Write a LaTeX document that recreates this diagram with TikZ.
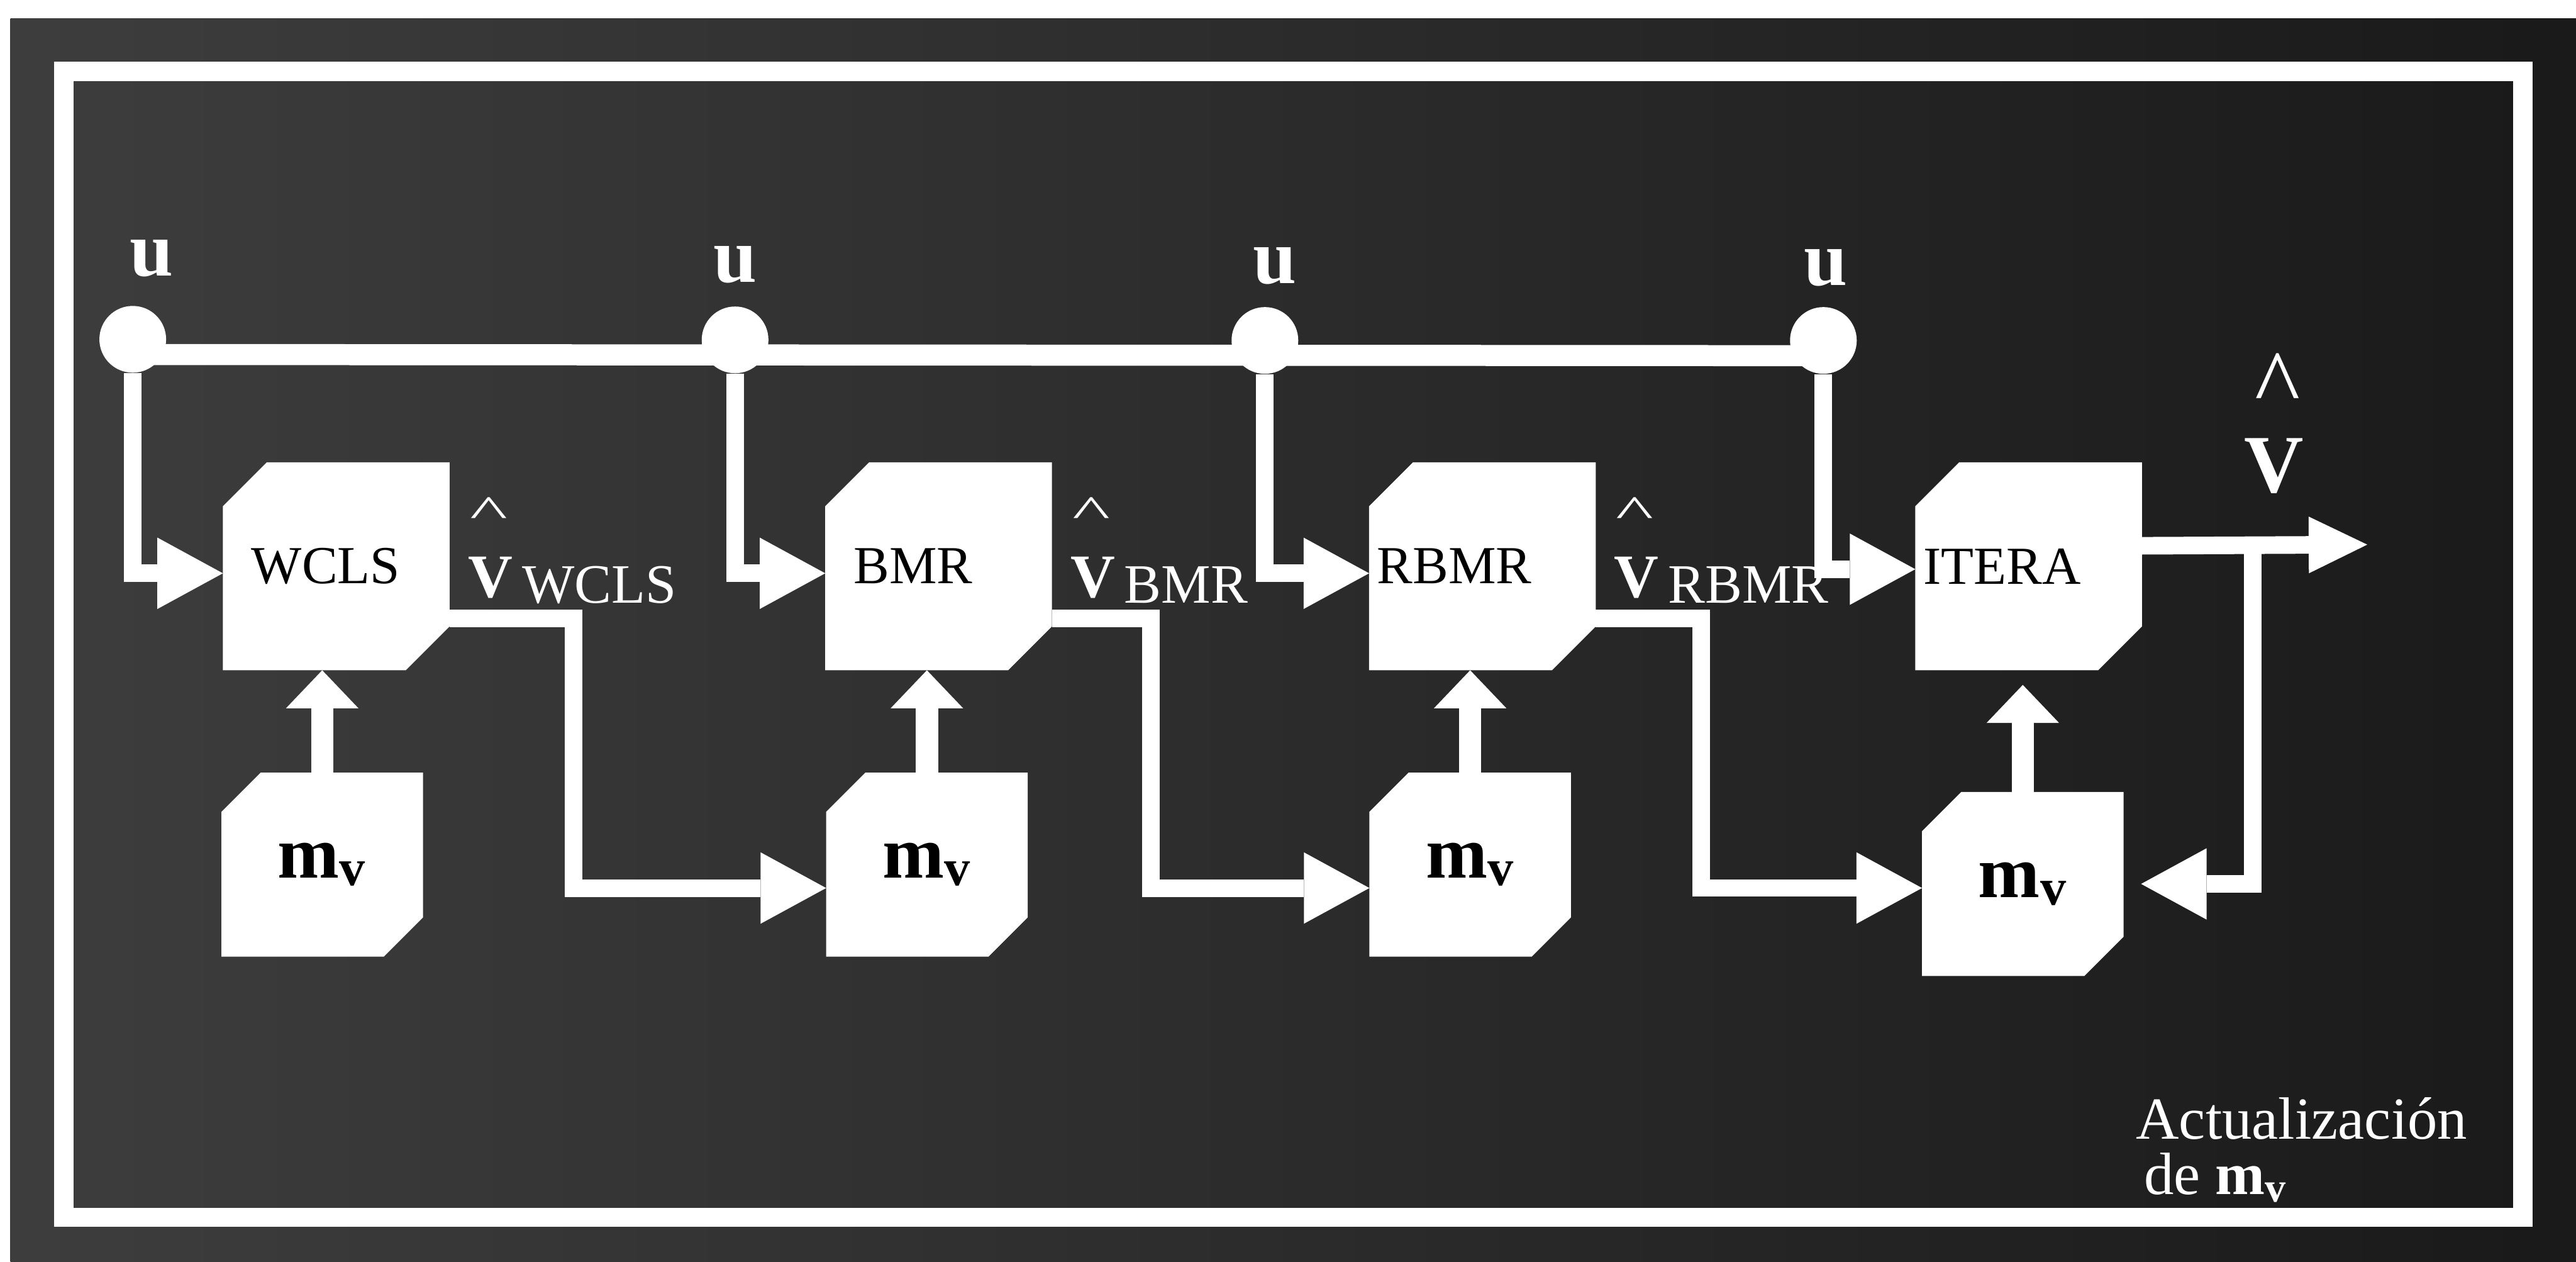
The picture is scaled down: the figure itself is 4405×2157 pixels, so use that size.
\documentclass[tikz,border=0pt]{standalone}
\usepackage{fontspec}
\setmainfont{Liberation Serif}
\usepackage{graphicx}
\usetikzlibrary{arrows.meta,positioning,calc,backgrounds}

% white block with two cut corners, filled behind a named node
\newcommand{\cutbox}[2]{%
  \fill[white] ([xshift=#2]#1.north west) -- (#1.north east)
    -- ([yshift=#2]#1.south east) -- ([xshift=-#2]#1.south east)
    -- (#1.south west) -- ([yshift=-#2]#1.north west) -- cycle;}
\newcommand{\lowsub}[1]{\raisebox{-1mm}{#1}}
\newcommand{\mvtext}{\textbf{m}\textsubscript{\textbf{v}}}
\newcommand{\flathat}{\scalebox{1}[0.56]{\textasciicircum}}

\begin{document}
\begin{tikzpicture}[
  x=0.01cm, y=-0.01cm,
  blk/.style={rectangle, inner sep=0pt, minimum width=3.86cm,
    minimum height=3.54cm, text width=2.9cm, align=left,
    font=\fontsize{26}{28}\selectfont},
  mvblk/.style={rectangle, inner sep=0pt, minimum width=3.43cm,
    minimum height=3.13cm, font=\fontsize{36}{38}\selectfont},
  dot/.style={circle, fill=white, inner sep=0pt, minimum size=1.14cm},
  ulab/.style={text=white, inner sep=0pt, anchor=base,
    font=\fontsize{38}{40}\selectfont\bfseries},
  vlab/.style={text=white, inner sep=0pt, anchor=base west,
    font=\fontsize{27}{28}\selectfont},
  hatlab/.style={text=white, inner sep=0pt, anchor=base,
    font=\fontsize{39}{40}\selectfont},
  wire/.style={draw=white, line width=0.3cm},
  flow/.style={wire, -{Triangle[length=1.12cm, width=1.22cm, line width=0pt]}},
  lift/.style={draw=white, line width=0.38cm,
    -{Triangle[length=0.65cm, width=1.24cm, line width=0pt]}},
  outflow/.style={wire, -{Triangle[length=1.0cm, width=0.97cm, line width=0pt]}},
]
\useasboundingbox (0,0) rectangle (4405,2157);

% ---- estimator chain ---------------------------------------------------
\node[blk] (wcls) at (575,968) {\raisebox{-1mm}{WCLS}};
\node[blk] (bmr) at (1605,968) {\raisebox{-1mm}{BMR}};
\node[blk, text width=3.6cm] (rbmr) at (2535,968) {\raisebox{-1mm}{RBMR}};
\node[blk, text width=3.6cm] (itera) at (3469,968) {ITERA};

\node[mvblk] (mv1) at (551,1478) {\mvtext\hspace{5mm}};
\node[mvblk] (mv2) at (1585,1478) {\mvtext\hspace{5mm}};
\node[mvblk] (mv3) at (2514,1478) {\mvtext\hspace{5mm}};
\node[mvblk] (mv4) at (3459,1511) {\mvtext\hspace{3mm}};

% ---- input bus u -------------------------------------------------------
\node[dot] (c1) at (227,580) {};
\node[dot] (c2) at (1257,581) {};
\node[dot] (c3) at (2163,582) {};
\node[dot] (c4) at (3118,582) {};
\node[ulab] (u1) at (259,472) {u};
\node[ulab] (u2) at (1257,482) {u};
\node[ulab] (u3) at (2180,485) {u};
\node[ulab] (u4) at (3122,488) {u};

\draw[wire, line width=0.36cm] ([yshift=-2.6mm]c1.center) -- ([yshift=-2.6mm]c4.center);
\draw[flow] (c1) |- ([yshift=-1.2mm]wcls.west);
\draw[flow] (c2) |- ([yshift=-1.2mm]bmr.west);
\draw[flow] (c3) |- ([yshift=-1.2mm]rbmr.west);
\draw[flow] (c4) |- ([yshift=-0.5mm]itera.west);

% ---- estimates passed on -----------------------------------------------
\draw[flow] ([yshift=-8.9mm]wcls.east) -- ++(212,0) |- ([yshift=-4mm]mv2.west);
\draw[flow] ([yshift=-8.9mm]bmr.east) -- ++(169,0) |- ([yshift=-4mm]mv3.west);
\draw[flow] ([yshift=-8.9mm]rbmr.east) -- ++(180,0) |- ([yshift=-0.7mm]mv4.west);

\foreach \m/\b in {mv1/wcls, mv2/bmr, mv3/rbmr}
  \draw[lift] (\m.north) -- (\m.north |- \b.south);
\draw[lift, shorten >=2.5mm] (mv4.north) -- (mv4.north |- itera.south);

\node[vlab] (vw) at ($(wcls.east)+(31,53)$)
  {{\fontsize{30}{32}\selectfont\bfseries V}\hspace{1.6mm}\lowsub{WCLS}};
\node[vlab] (vb) at ($(bmr.east)+(31,53)$)
  {{\fontsize{30}{32}\selectfont\bfseries V}\hspace{1.6mm}\lowsub{BMR}};
\node[vlab] (vr) at ($(rbmr.east)+(31,53)$)
  {{\fontsize{30}{32}\selectfont\bfseries V}\hspace{1.6mm}\lowsub{RBMR}};
\node[hatlab] (hw) at ($(vw.base west)+(36,-120)$) {\flathat};
\node[hatlab] (hb) at ($(vb.base west)+(36,-120)$) {\flathat};
\node[hatlab] (hr) at ($(vr.base west)+(36,-120)$) {\flathat};

% ---- final output and update of m_v ------------------------------------
\coordinate (tap) at (3852,931);
\coordinate (vout) at (4048,931);
\draw[outflow] ([yshift=3.5mm]itera.east) -- (vout);
\draw[flow, shorten >=3mm] (tap) |- (mv4.east);

\node[ulab, font=\fontsize{40}{42}\selectfont\bfseries] (vfin) at (3888,842) {V};
\node[hatlab, font=\fontsize{47}{48}\selectfont] (hfin) at (3895,712) {\textasciicircum};

\node[text=white, inner sep=0pt, anchor=base west, align=left,
  font=\fontsize{29}{27}\selectfont] (upd) at (3652,2042)
  {Actualización\\\hspace{1.4mm}de \mvtext};

% ---- panel and block faces ---------------------------------------------
\begin{scope}[on background layer]
  \fill[white] (0,0) rectangle (4405,2157);
  \shade[left color=black!76, right color=black!90] (18,32) rectangle (4405,2157);
  \draw[white, line width=0.33cm] (109,122) rectangle (4314,2081);
  \foreach \b in {wcls,bmr,rbmr,itera} {\cutbox{\b}{7.5mm}}
  \foreach \b in {mv1,mv2,mv3,mv4} {\cutbox{\b}{6.7mm}}
\end{scope}
\end{tikzpicture}
\end{document}
